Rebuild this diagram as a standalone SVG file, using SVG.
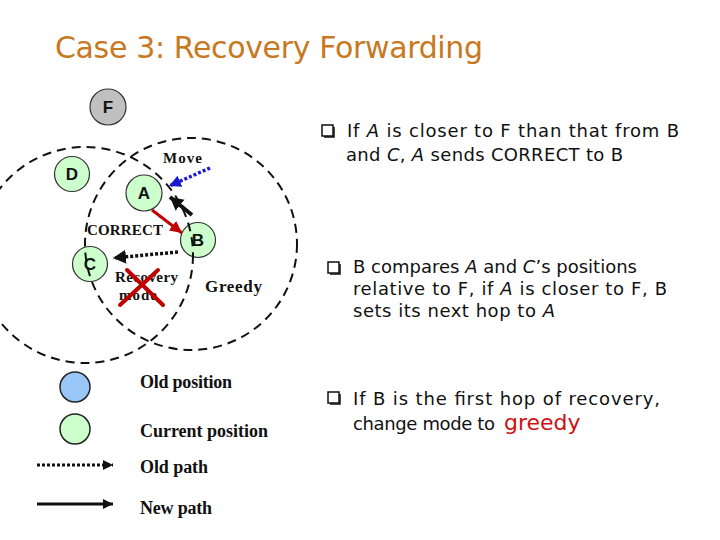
<svg xmlns="http://www.w3.org/2000/svg" width="720" height="540" viewBox="0 0 720 540">
<style>
.node{fill:#ccffcc;stroke:#333;stroke-width:1.2}
.nl{font-family:"Liberation Sans",Arial,sans-serif;font-weight:bold;font-size:17px;text-anchor:middle;fill:#111}
.range{fill:none;stroke:#111;stroke-width:2;stroke-dasharray:9 6}
.lbl{font-family:"Liberation Serif","Times New Roman",serif;font-weight:bold;font-size:15px;fill:#111}
.leg{font-family:"Liberation Serif","Times New Roman",serif;font-weight:bold;font-size:18px;fill:#111}
.body{font-family:"DejaVu Sans","Open Sans",sans-serif;font-size:18px;fill:#111}
.it{font-style:italic}
.box{fill:#fff;stroke:#111;stroke-width:1.5}
</style>
<defs>
<marker id="hb" markerUnits="userSpaceOnUse" markerWidth="14" markerHeight="14" refX="12" refY="6" orient="auto"><path d="M0,0 L12,6 L0,12 Z" fill="#1a1acc"/></marker>
<marker id="hk" markerUnits="userSpaceOnUse" markerWidth="16" markerHeight="16" refX="13" refY="7" orient="auto"><path d="M0,0 L13,7 L0,14 Z" fill="#111"/></marker>
<marker id="hr" markerUnits="userSpaceOnUse" markerWidth="14" markerHeight="14" refX="12" refY="6" orient="auto"><path d="M0,0 L12,6 L0,12 Z" fill="#c00000"/></marker>
<marker id="hs" markerUnits="userSpaceOnUse" markerWidth="12" markerHeight="12" refX="10" refY="5" orient="auto"><path d="M0,0 L10,5 L0,10 Z" fill="#111"/></marker>
</defs>

<text x="55" y="58" font-family="'Comic Sans MS','DejaVu Sans',sans-serif" font-size="30" fill="#c8781e" textLength="428">Case 3: Recovery Forwarding</text>

<g id="node-F"><circle cx="108" cy="107" r="18" fill="#c0c0c0" stroke="#333" stroke-width="1.2"/><text class="nl" x="108" y="113">F</text></g>
<g id="node-D"><circle class="node" cx="72" cy="174" r="17.5"/><text class="nl" x="72" y="180">D</text></g>
<g id="node-A"><circle class="node" cx="144" cy="193" r="18"/><text class="nl" x="144" y="199">A</text></g>
<g id="node-B"><circle class="node" cx="198" cy="240" r="17.5"/><text class="nl" x="198" y="246">B</text></g>
<g id="node-C"><circle class="node" cx="90" cy="264" r="17.5"/><text class="nl" x="90" y="270">C</text></g>

<g id="ranges">
<circle class="range" cx="85" cy="255" r="108"/>
<circle class="range" cx="191" cy="244" r="106"/>
</g>

<g id="connectors">
<line x1="210" y1="168" x2="169" y2="186" stroke="#1a1acc" stroke-width="3.5" stroke-dasharray="3 2" marker-end="url(#hb)"/>
<line x1="192" y1="215" x2="170" y2="197" stroke="#111" stroke-width="4" marker-end="url(#hk)"/>
<line x1="152" y1="210" x2="182" y2="233" stroke="#c00000" stroke-width="3" marker-end="url(#hr)"/>
<line x1="178" y1="252" x2="113" y2="258" stroke="#111" stroke-width="3.5" stroke-dasharray="3 2" marker-end="url(#hk)"/>
</g>

<text class="lbl" x="163" y="163" textLength="39">Move</text>
<text class="lbl" x="87" y="235" textLength="76">CORRECT</text>
<text class="lbl" x="115" y="282" textLength="63">Recovery</text>
<text class="lbl" x="119" y="300" textLength="38">mode</text>
<g id="cross" stroke="#c00000" stroke-width="4" stroke-linecap="round">
<line x1="120" y1="305" x2="158" y2="270"/>
<line x1="127" y1="270" x2="163" y2="305"/>
</g>
<text class="lbl" x="205" y="292" style="font-size:17px" textLength="57">Greedy</text>

<g id="legend">
<circle cx="75" cy="387" r="15" fill="#99c8f8" stroke="#222" stroke-width="1.5"/>
<circle cx="75" cy="429" r="15" fill="#ccffcc" stroke="#222" stroke-width="1.5"/>
<line x1="37" y1="465" x2="113" y2="465" stroke="#111" stroke-width="3" stroke-dasharray="3 2" marker-end="url(#hs)"/>
<line x1="37" y1="504" x2="113" y2="504" stroke="#111" stroke-width="3" marker-end="url(#hs)"/>
<text class="leg" x="140" y="388" textLength="92">Old position</text>
<text class="leg" x="140" y="437" textLength="128">Current position</text>
<text class="leg" x="140" y="473" textLength="68">Old path</text>
<text class="leg" x="140" y="514" textLength="72">New path</text>
</g>

<g id="bullets">
<rect class="box" x="322" y="125" width="11" height="11"/><path d="M334,127 V137 H324" fill="none" stroke="#111" stroke-width="1.5"/>
<text class="body" x="347" y="137" textLength="332">If <tspan class="it">A</tspan> is closer to F than that from B</text>
<text class="body" x="346" y="161" textLength="277">and <tspan class="it">C</tspan>, <tspan class="it">A</tspan> sends CORRECT to B</text>

<rect class="box" x="328" y="262" width="11" height="11"/><path d="M340,264 V274 H330" fill="none" stroke="#111" stroke-width="1.5"/>
<text class="body" x="353" y="273" textLength="284">B compares <tspan class="it">A</tspan> and <tspan class="it">C</tspan>’s positions</text>
<text class="body" x="353" y="295" textLength="314">relative to F, if <tspan class="it">A</tspan> is closer to F, B</text>
<text class="body" x="353" y="317" textLength="202">sets its next hop to <tspan class="it">A</tspan></text>

<rect class="box" x="328" y="392" width="11" height="11"/><path d="M340,394 V404 H330" fill="none" stroke="#111" stroke-width="1.5"/>
<text class="body" x="353" y="405" textLength="307">If B is the first hop of recovery,</text>
<text class="body" x="353" y="430" textLength="142">change mode to</text>
<text class="body" x="504" y="430" style="font-size:22px;fill:#cc1111">greedy</text>
</g>
</svg>
